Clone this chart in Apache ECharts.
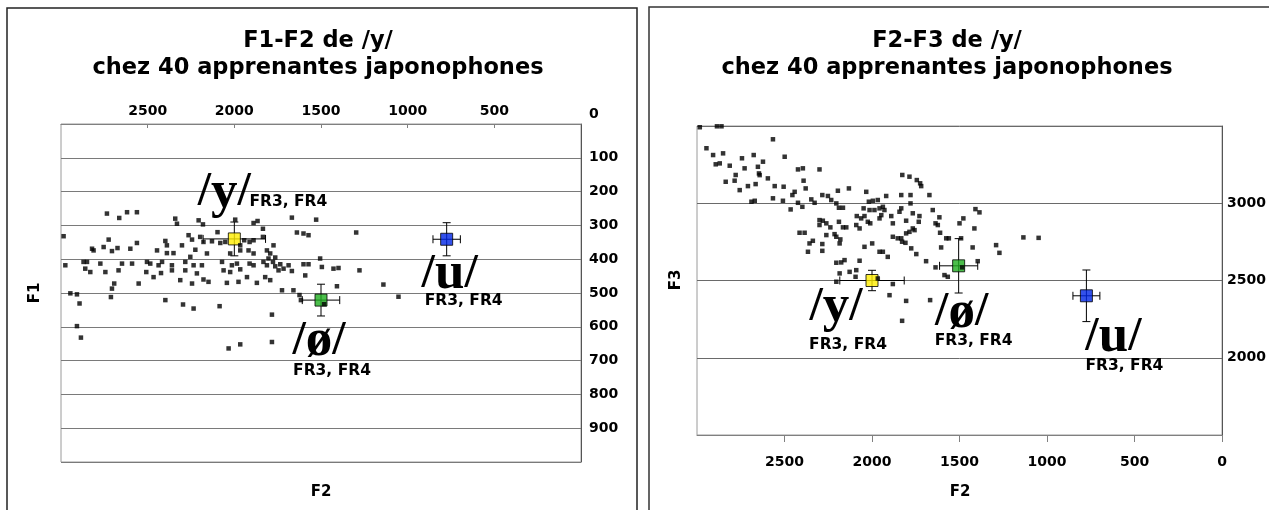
<!DOCTYPE html>
<html><head><meta charset="utf-8">
<script src="https://cdn.jsdelivr.net/npm/echarts@6/dist/echarts.min.js"></script>
<style>html,body{margin:0;padding:0;background:#fff}#c{width:1269px;height:510px}</style>
</head><body><div id="c"></div>
<script>
// ---------- DATA ----------
// F1-F2 plane: individual productions [F2, F1] (Hz)
const f1f2Points = [
[2735,265],[2664,278],[2619,261],[2562,261],[2341,280],[2331,295],[2206,285],[2181,297],[1995,283],[1889,293],
[1866,287],[1835,310],[1668,277],[1528,283],[1297,321],[2985,332],[2725,342],[2812,374],[2754,364],[2706,376],
[2674,367],[2600,369],[2562,352],[2446,374],[2398,346],[2389,359],[2389,382],[2351,382],[2302,359],[2264,329],
[2244,342],[2197,334],[2178,349],[2129,347],[2097,320],[2081,352],[2052,349],[2024,383],[1966,374],[1943,344],
[1912,349],[1889,344],[1835,334],[1966,359],[1918,374],[1889,383],[1774,359],[1812,374],[1793,383],[1803,398],
[1764,395],[2158,383],[2225,372],[2975,418],[2870,408],[2850,408],[2860,428],[2831,438],[2773,413],[2744,438],
[2668,433],[2648,413],[2590,413],[2552,472],[2504,408],[2485,413],[2508,438],[2466,453],[2437,418],[2417,408],
[2423,441],[2360,433],[2360,418],[2312,462],[2283,408],[2283,433],[2254,393],[2235,418],[2244,472],[2216,442],
[2187,418],[2178,460],[2149,467],[2071,408],[2062,433],[2043,470],[2024,438],[2014,418],[1985,413],[1976,467],
[1966,430],[1927,453],[1912,413],[1889,418],[1870,470],[1832,408],[1812,418],[1822,453],[1793,462],[1777,408],
[1764,421],[1745,433],[1735,415],[1716,428],[1687,418],[1668,435],[1601,415],[1572,415],[1591,448],[1505,398],
[1495,423],[1428,428],[1399,426],[1278,433],[1140,475],[1053,511],[2706,487],[2693,472],[2946,501],[2908,504],
[2893,531],[2712,512],[2398,521],[2296,534],[2235,546],[2085,539],[1783,564],[1725,492],[1659,492],[1624,506],
[1616,521],[1408,480],[1482,533],[2908,598],[2885,632],[2033,664],[1966,652],[1783,645],[1639,321],[1601,324],
[1572,329],[2821,369]
];
// F2-F3 plane: individual productions [F2, F3] (Hz)
const f2f3Points = [
[2984,3492],[2886,3498],[2860,3498],[2566,3414],[2946,3356],[2908,3312],[2851,3323],[2893,3252],[2870,3258],[2813,3243],
[2743,3291],[2676,3312],[2728,3226],[2779,3183],[2836,3139],[2785,3146],[2756,3085],[2709,3111],[2665,3124],[2652,3236],
[2646,3193],[2623,3269],[2642,3182],[2595,3161],[2499,3301],[2423,3219],[2395,3226],[2300,3219],[2391,3146],[2379,3096],
[2556,3111],[2505,3107],[2442,3074],[2689,3010],[2670,3016],[2566,3032],[2509,3016],[2465,2960],[2455,3053],[2423,3003],
[2398,2977],[2347,3025],[2328,3003],[2284,3053],[2252,3047],[2233,3021],[2195,3081],[2132,3096],[2204,2999],[2189,2971],
[2166,2971],[2033,3074],[2048,2967],[2018,3010],[1995,3016],[1967,3021],[2014,2956],[1986,2956],[1957,2967],[1938,2977],
[1929,2956],[1919,3047],[1827,3183],[1786,3172],[1744,3150],[1725,3129],[1719,3111],[1833,3053],[1780,3053],[1672,3053],
[1780,2999],[1833,2967],[1890,2917],[1881,2870],[1947,2923],[1957,2902],[2043,2917],[2062,2902],[2087,2917],[2024,2880],
[2010,2870],[2090,2859],[2071,2837],[2166,2844],[2147,2844],[2300,2891],[2281,2887],[2261,2870],[2238,2844],[2300,2859],
[2189,2880],[2414,2809],[2385,2809],[2261,2794],[2214,2800],[2204,2783],[2181,2766],[2338,2757],[2357,2740],[2366,2686],
[2284,2736],[2284,2692],[2185,2740],[2043,2718],[1999,2740],[1957,2686],[1938,2686],[1910,2653],[1881,2783],[1853,2773],
[1833,2773],[1828,2751],[1809,2744],[1805,2805],[1786,2815],[1767,2837],[1757,2826],[1776,2708],[1747,2671],[1843,2945],
[1805,2887],[1767,2935],[1729,2917],[1733,2880],[1653,2956],[1615,2909],[1637,2870],[1624,2859],[1611,2809],[1576,2773],
[1561,2773],[1605,2714],[1500,2870],[1478,2902],[1415,2837],[1409,2962],[1386,2941],[1425,2714],[1396,2625],[1491,2773],
[1291,2729],[1272,2679],[1135,2779],[1048,2776],[1691,2625],[1637,2585],[1586,2535],[1567,2524],[1485,2585],[2204,2615],
[2176,2617],[2157,2632],[2071,2628],[2185,2546],[2128,2556],[2090,2567],[2094,2524],[2204,2492],[1967,2513],[1881,2477],
[1900,2405],[1805,2368],[1668,2373],[1828,2239]
];
// Reference vowels (French natives FR3, FR4): means and spreads
const vowels      = ['y', 'ø', 'u'];
const refLabel    = 'FR3, FR4';
const meanF2_a    = [2000, 1500, 775];
const meanF1      = [340, 521, 341];
const spreadF2_a  = [180, 108, 79];
const spreadF1    = [50, 47, 49];
const meanF2_b    = [2000, 1505, 775];
const meanF3      = [2500, 2595, 2401];
const spreadF2_b  = [184, 109, 77];
const spreadF3    = [66, 176, 167];
const titles = ['F1-F2 de /y/\nchez 40 apprenantes japonophones', 'F2-F3 de /y/\nchez 40 apprenantes japonophones'];

// ---------- STYLE ----------
const vowelColors = ['#ffee00', '#1fae1f', '#0026e6'];
const SANS = 'DejaVu Sans';
const SERIF = 'Liberation Serif';
// label offsets (px) relative to the mean marker: [big phoneme, subscript]
const offA = [[[-10,-46],[54,-37]], [[-2,41],[11,71]], [[3,35],[17,62]]];
const offB = [[[-36,27],[-24,64]], [[3,47],[15,75]], [[27,42],[38,70]]];

const chart = echarts.init(document.getElementById('c'));

function errRender(params, api) {
  const x = api.value(0), y = api.value(1), ex = api.value(2), ey = api.value(3);
  const c = api.coord([x, y]);
  const xa = api.coord([x + ex, y]), xb = api.coord([x - ex, y]);
  const ya = api.coord([x, y + ey]), yb = api.coord([x, y - ey]);
  const cap = 4;
  const st = {stroke: '#000', lineWidth: 1};
  const L = (x1, y1, x2, y2) => ({type: 'line', shape: {x1, y1, x2, y2}, style: st});
  return {type: 'group', children: [
    L(xa[0], c[1], xb[0], c[1]),
    L(xa[0], c[1] - cap, xa[0], c[1] + cap),
    L(xb[0], c[1] - cap, xb[0], c[1] + cap),
    L(c[0], ya[1], c[0], yb[1]),
    L(c[0] - cap, ya[1], c[0] + cap, ya[1]),
    L(c[0] - cap, yb[1], c[0] + cap, yb[1])
  ]};
}

function meanSeries(idx, mx, my) {
  return {type: 'scatter', xAxisIndex: idx, yAxisIndex: idx, z: 3, symbol: 'rect', symbolSize: 12,
    data: vowels.map((v, i) => ({value: [mx[i], my[i]], itemStyle: {color: vowelColors[i]}})),
    itemStyle: {borderColor: '#000', borderWidth: 1}, silent: true};
}
function errSeries(idx, mx, my, sx, sy) {
  return {type: 'custom', xAxisIndex: idx, yAxisIndex: idx, z: 2, renderItem: errRender, clip: false,
    data: vowels.map((v, i) => [mx[i], my[i], sx[i], sy[i]]), silent: true};
}
function labelSeries(idx, mx, my, offs, which) {
  const big = which === 0;
  return {type: 'scatter', xAxisIndex: idx, yAxisIndex: idx, z: 5, symbolSize: 1,
    itemStyle: {color: 'rgba(255,255,255,0)'}, silent: true, clip: false,
    data: vowels.map((v, i) => ({value: [mx[i], my[i]], name: big ? v : refLabel,
      label: {offset: offs[i][which]}})),
    label: {show: true, position: 'inside', color: '#000', opacity: 1, textBorderWidth: 0, textBorderColor: 'transparent',
      formatter: big ? (p => '{s|/}{l|' + p.name + '}{s|/}') : (p => p.name),
      fontFamily: big ? SERIF : SANS, fontWeight: 'bold', fontSize: big ? 48 : 15.5,
      rich: {
        s: {fontFamily: SERIF, fontWeight: 'bold', fontSize: 48, color: '#000', textBorderWidth: 0},
        l: {fontFamily: SERIF, fontWeight: 'bold', fontSize: 53, color: '#000', textBorderWidth: 0}
      }}};
}
function dotSeries(idx, pts) {
  return {type: 'scatter', xAxisIndex: idx, yAxisIndex: idx, z: 4, symbol: 'rect', symbolSize: 4.5,
    itemStyle: {color: '#000'}, data: pts, silent: true};
}

const axLabel = {fontFamily: SANS, fontWeight: 'bold', fontSize: 14, color: '#000'};
const plain = v => String(v);

chart.setOption({
  animation: false,
  backgroundColor: '#fff',
  grid: [
    {left: 61, top: 124, width: 520, height: 338, show: true, borderColor: '#9a9a9a', borderWidth: 1},
    {left: 697, top: 126, width: 526, height: 309, show: true, borderColor: '#9a9a9a', borderWidth: 1}
  ],
  xAxis: [
    {gridIndex: 0, type: 'value', position: 'top', inverse: true, min: 0, max: 3000, interval: 500,
     axisLine: {show: true, lineStyle: {color: '#808080'}},
     axisTick: {show: true, inside: true, length: 4, lineStyle: {color: '#808080'}},
     axisLabel: Object.assign({margin: 6, showMinLabel: false, showMaxLabel: false, formatter: plain}, axLabel),
     splitLine: {show: false}},
    {gridIndex: 1, type: 'value', position: 'bottom', inverse: true, min: 0, max: 3000, interval: 500,
     axisLine: {show: true, lineStyle: {color: '#808080'}},
     axisTick: {show: true, inside: false, length: 7, lineStyle: {color: '#808080'}},
     axisLabel: Object.assign({margin: 20, showMinLabel: true, showMaxLabel: false, formatter: plain}, axLabel),
     splitLine: {show: false}}
  ],
  yAxis: [
    {gridIndex: 0, type: 'value', position: 'right', inverse: true, min: 0, max: 1000, interval: 100,
     axisLine: {show: true, lineStyle: {color: '#555'}}, axisTick: {show: false},
     axisLabel: Object.assign({margin: 8, showMaxLabel: false,
       formatter: v => v === 0 ? '{up|0}' : String(v),
       rich: {up: {fontFamily: SANS, fontWeight: 'bold', fontSize: 14, color: '#000', padding: [0, 0, 20, 0]}}}, axLabel),
     splitLine: {show: true, lineStyle: {color: '#7a7a7a', width: 1}}},
    {gridIndex: 1, type: 'value', position: 'right', min: 1500, max: 3500, interval: 500,
     axisLine: {show: true, lineStyle: {color: '#555'}}, axisTick: {show: false},
     axisLabel: Object.assign({margin: 5, showMinLabel: false, showMaxLabel: false, formatter: plain}, axLabel),
     splitLine: {show: true, lineStyle: {color: '#6a6a6a', width: 1}}}
  ],
  graphic: [
    {type: 'rect', shape: {x: 7, y: 8, width: 630, height: 520}, style: {fill: 'none', stroke: '#222', lineWidth: 1.5}, z: 0},
    {type: 'rect', shape: {x: 649, y: 7, width: 640, height: 520}, style: {fill: 'none', stroke: '#333', lineWidth: 1.5}, z: 0},
    {type: 'text', x: 318, y: 55, style: {text: titles[0], align: 'center', verticalAlign: 'middle', lineHeight: 27,
      font: 'bold 22.5px "DejaVu Sans"', fill: '#000'}},
    {type: 'text', x: 947, y: 55, style: {text: titles[1], align: 'center', verticalAlign: 'middle', lineHeight: 27,
      font: 'bold 22.5px "DejaVu Sans"', fill: '#000'}},
    {type: 'text', x: 35, y: 293, rotation: Math.PI / 2, style: {text: 'F1', align: 'center', verticalAlign: 'middle',
      font: 'bold 15px "DejaVu Sans"', fill: '#000'}},
    {type: 'text', x: 321, y: 492, style: {text: 'F2', align: 'center', verticalAlign: 'middle',
      font: 'bold 15px "DejaVu Sans"', fill: '#000'}},
    {type: 'text', x: 676, y: 280, rotation: Math.PI / 2, style: {text: 'F3', align: 'center', verticalAlign: 'middle',
      font: 'bold 15px "DejaVu Sans"', fill: '#000'}},
    {type: 'text', x: 960, y: 492, style: {text: 'F2', align: 'center', verticalAlign: 'middle',
      font: 'bold 15px "DejaVu Sans"', fill: '#000'}}
  ],
  series: [
    errSeries(0, meanF2_a, meanF1, spreadF2_a, spreadF1),
    meanSeries(0, meanF2_a, meanF1),
    dotSeries(0, f1f2Points),
    labelSeries(0, meanF2_a, meanF1, offA, 0),
    labelSeries(0, meanF2_a, meanF1, offA, 1),
    errSeries(1, meanF2_b, meanF3, spreadF2_b, spreadF3),
    meanSeries(1, meanF2_b, meanF3),
    dotSeries(1, f2f3Points),
    labelSeries(1, meanF2_b, meanF3, offB, 0),
    labelSeries(1, meanF2_b, meanF3, offB, 1)
  ]
});
</script></body></html>
